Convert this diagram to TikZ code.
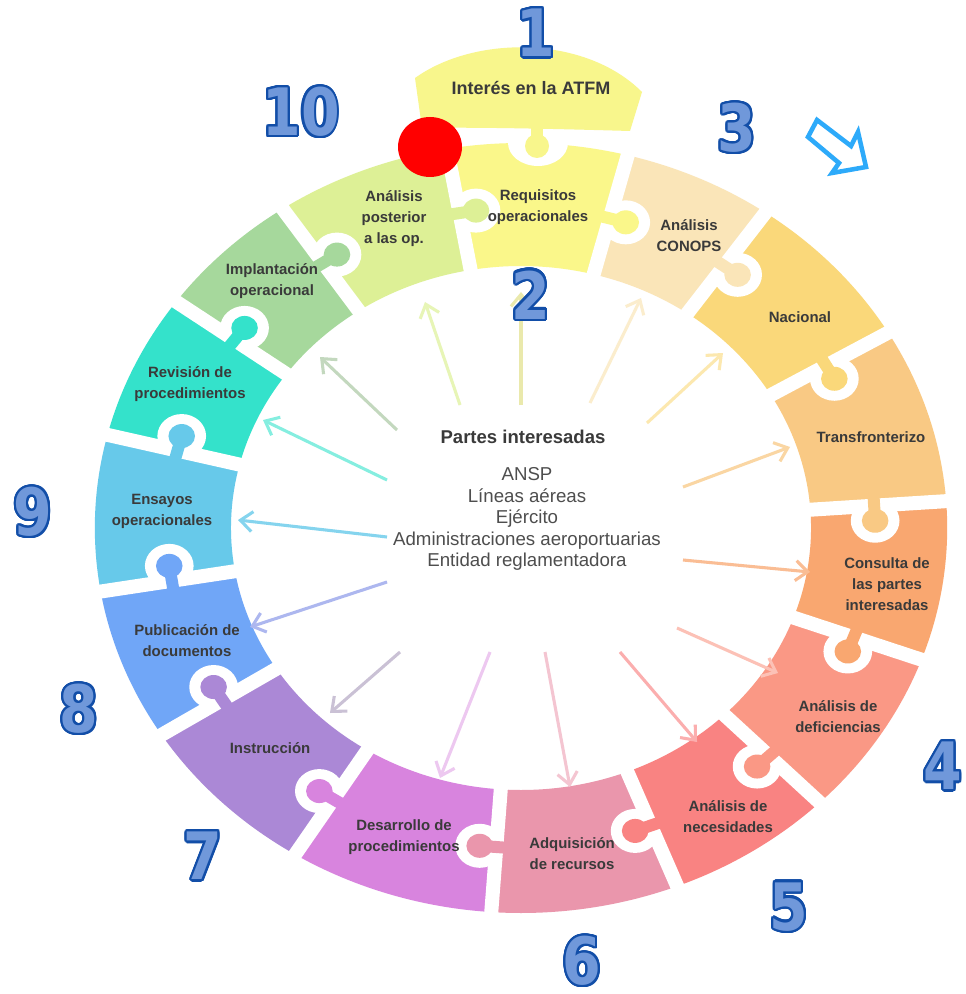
\documentclass[tikz,border=0pt]{standalone}
\usepackage{fontspec}
\setmainfont{Liberation Sans}
\newfontfamily\numfont{DejaVu Sans}
\usepackage{contour}
\usetikzlibrary{arrows.meta}
\contourlength{1.8pt}
\contournumber{24}

\definecolor{cInt}{RGB}{248,246,140}
\definecolor{cReq}{RGB}{250,247,138}
\definecolor{cCon}{RGB}{250,229,184}
\definecolor{cNac}{RGB}{250,216,122}
\definecolor{cTra}{RGB}{249,201,132}
\definecolor{cCsl}{RGB}{249,167,112}
\definecolor{cDef}{RGB}{250,152,133}
\definecolor{cNec}{RGB}{249,131,130}
\definecolor{cAdq}{RGB}{234,150,172}
\definecolor{cDes}{RGB}{216,132,222}
\definecolor{cIns}{RGB}{171,136,214}
\definecolor{cPub}{RGB}{112,166,247}
\definecolor{cEns}{RGB}{103,201,234}
\definecolor{cRev}{RGB}{52,226,203}
\definecolor{cImp}{RGB}{166,216,156}
\definecolor{cAnp}{RGB}{221,240,150}
\definecolor{txtGray}{RGB}{58,58,58}
\definecolor{numLine}{RGB}{18,78,168}
\definecolor{numFill}{RGB}{112,152,218}
\definecolor{hintBlue}{RGB}{45,170,250}

\newcommand{\bignum}[1]{\contour{numLine}{\textcolor{numFill}{#1}}}

\tikzset{every picture/.style={line width=0.75pt}}
\tikzset{
  gapline/.style={white, line width=10.5pt},
  neck/.style={line width=9pt},
  ray/.style={line width=2.3pt, -{Straight Barb[length=9pt,width=15pt]}},
  lbl/.style={inner sep=0.75pt, align=center, text=txtGray, font=\fontsize{11.2}{15.8}\selectfont\bfseries},
  num/.style={inner sep=0pt, font=\numfont\bfseries\fontsize{49}{49}\selectfont, xscale=0.85},
}

\begin{document}
\begin{tikzpicture}[x=0.75pt,y=0.75pt,yscale=-1,xscale=1]
%set diagram to the size of the picture
\useasboundingbox (0,0) rectangle (965,994);
\fill [white] (0,0) rectangle (965,994);

\begin{scope}[shift={(521,528)},xscale=1.107,yscale=-1]
%Shape: Ring pieces
\fill [cReq] (75.5:262) arc [start angle=75.5, end angle=100, radius=262] -- (100:385) arc [start angle=100, end angle=75.5, radius=385] -- cycle;
\fill [cCon] (55:262) arc [start angle=55, end angle=75.5, radius=262] -- (75.5:385) arc [start angle=75.5, end angle=55, radius=385] -- cycle;
\fill [cNac] (30.5:262) arc [start angle=30.5, end angle=55, radius=262] -- (55:385) arc [start angle=55, end angle=30.5, radius=385] -- cycle;
\fill [cTra] (4:262) arc [start angle=4, end angle=30.5, radius=262] -- (30.5:385) arc [start angle=30.5, end angle=4, radius=385] -- cycle;
\fill [cCsl] (-20:262) arc [start angle=-20, end angle=4, radius=262] -- (4:385) arc [start angle=4, end angle=-20, radius=385] -- cycle;
\fill [cDef] (-45.5:262) arc [start angle=-45.5, end angle=-20, radius=262] -- (-20:385) arc [start angle=-20, end angle=-45.5, radius=385] -- cycle;
\fill [cNec] (-68.5:262) arc [start angle=-68.5, end angle=-45.5, radius=262] -- (-45.5:385) arc [start angle=-45.5, end angle=-68.5, radius=385] -- cycle;
\fill [cAdq] (-94:262) arc [start angle=-94, end angle=-68.5, radius=262] -- (-68.5:385) arc [start angle=-68.5, end angle=-94, radius=385] -- cycle;
\fill [cDes] (-122:262) arc [start angle=-122, end angle=-94, radius=262] -- (-94:385) arc [start angle=-94, end angle=-122, radius=385] -- cycle;
\fill [cIns] (-147.5:262) arc [start angle=-147.5, end angle=-122, radius=262] -- (-122:385) arc [start angle=-122, end angle=-147.5, radius=385] -- cycle;
\fill [cPub] (-170.5:262) arc [start angle=-170.5, end angle=-147.5, radius=262] -- (-147.5:385) arc [start angle=-147.5, end angle=-170.5, radius=385] -- cycle;
\fill [cEns] (-194:262) arc [start angle=-194, end angle=-170.5, radius=262] -- (-170.5:385) arc [start angle=-170.5, end angle=-194, radius=385] -- cycle;
\fill [cRev] (-216:262) arc [start angle=-216, end angle=-194, radius=262] -- (-194:385) arc [start angle=-194, end angle=-216, radius=385] -- cycle;
\fill [cImp] (-236:262) arc [start angle=-236, end angle=-216, radius=262] -- (-216:385) arc [start angle=-216, end angle=-236, radius=385] -- cycle;
\fill [cAnp] (-260:262) arc [start angle=-260, end angle=-236, radius=262] -- (-236:385) arc [start angle=-236, end angle=-260, radius=385] -- cycle;

%Straight Lines: gaps between the pieces
\draw [gapline] (75.5:245) -- (75.5:398);
\draw [gapline] (55:245) -- (55:398);
\draw [gapline] (30.5:245) -- (30.5:398);
\draw [gapline] (4:245) -- (4:398);
\draw [gapline] (-20:245) -- (-20:398);
\draw [gapline] (-45.5:245) -- (-45.5:398);
\draw [gapline] (-68.5:245) -- (-68.5:398);
\draw [gapline] (-94:245) -- (-94:398);
\draw [gapline] (-122:245) -- (-122:398);
\draw [gapline] (-147.5:245) -- (-147.5:398);
\draw [gapline] (-170.5:245) -- (-170.5:398);
\draw [gapline] (-194:245) -- (-194:398);
\draw [gapline] (-216:245) -- (-216:398);
\draw [gapline] (-236:245) -- (-236:398);
\draw [gapline] (-260:245) -- (-260:398);

%Shape: sockets and tabs
\fill [white] (72.8:320) circle (22);
\draw [neck, cReq] (77:320) -- (72.8:320); \fill [cReq] (72.8:320) circle (12);
\fill [white] (52.3:320) circle (22);
\draw [neck, cCon] (56.5:320) -- (52.3:320); \fill [cCon] (52.3:320) circle (12);
\fill [white] (27.8:320) circle (22);
\draw [neck, cNac] (32:320) -- (27.8:320); \fill [cNac] (27.8:320) circle (12);
\fill [white] (1.3:320) circle (22);
\draw [neck, cTra] (5.5:320) -- (1.3:320); \fill [cTra] (1.3:320) circle (12);
\fill [white] (-22.7:320) circle (22);
\draw [neck, cCsl] (-18.5:320) -- (-22.7:320); \fill [cCsl] (-22.7:320) circle (12);
\fill [white] (-48.2:320) circle (22);
\draw [neck, cDef] (-44:320) -- (-48.2:320); \fill [cDef] (-48.2:320) circle (12);
\fill [white] (-71.2:320) circle (22);
\draw [neck, cNec] (-67:320) -- (-71.2:320); \fill [cNec] (-71.2:320) circle (12);
\fill [white] (-96.7:320) circle (22);
\draw [neck, cAdq] (-92.5:320) -- (-96.7:320); \fill [cAdq] (-96.7:320) circle (12);
\fill [white] (-124.7:320) circle (22);
\draw [neck, cDes] (-120.5:320) -- (-124.7:320); \fill [cDes] (-124.7:320) circle (12);
\fill [white] (-150.2:320) circle (22);
\draw [neck, cIns] (-146:320) -- (-150.2:320); \fill [cIns] (-150.2:320) circle (12);
\fill [white] (-173.2:320) circle (22);
\draw [neck, cPub] (-169:320) -- (-173.2:320); \fill [cPub] (-173.2:320) circle (12);
\fill [white] (-196.7:320) circle (22);
\draw [neck, cEns] (-192.5:320) -- (-196.7:320); \fill [cEns] (-196.7:320) circle (12);
\fill [white] (-218.7:320) circle (22);
\draw [neck, cRev] (-214.5:320) -- (-218.7:320); \fill [cRev] (-218.7:320) circle (12);
\fill [white] (-238.7:320) circle (22);
\draw [neck, cImp] (-234.5:320) -- (-238.7:320); \fill [cImp] (-238.7:320) circle (12);
\fill [white] (-262.7:320) circle (22);
\draw [neck, cAnp] (-258.5:320) -- (-262.7:320); \fill [cAnp] (-262.7:320) circle (12);
\end{scope}

%Shape: top piece
\fill [white] (538,143) ellipse [x radius=30, y radius=23];
\fill [cInt] (422,128) -- (415,78) .. controls (475,35) and (585,35) .. (642,92) -- (630,131) .. controls (560,129) and (480,127) .. (422,128) -- cycle;
\draw [neck, cInt] (537,126) -- (537,146); \fill [cInt] (537,146) circle (12);

%Straight Lines: arrows from the centre
\coordinate (tReq) at (521,405); \coordinate (hReq) at (521,292);
\coordinate (tCon) at (590,403); \coordinate (hCon) at (641,298);
\coordinate (tNac) at (647,423); \coordinate (hNac) at (723,353);
\coordinate (tTra) at (683,487); \coordinate (hTra) at (790,447);
\coordinate (tCsl) at (683,560); \coordinate (hCsl) at (810,572);
\coordinate (tDef) at (677,628); \coordinate (hDef) at (778,673);
\coordinate (tNec) at (620,652); \coordinate (hNec) at (697,742);
\coordinate (tAdq) at (545,652); \coordinate (hAdq) at (570,787);
\coordinate (tDes) at (490,652); \coordinate (hDes) at (440,778);
\coordinate (tIns) at (400,652); \coordinate (hIns) at (330,713);
\coordinate (tPub) at (387,582); \coordinate (hPub) at (250,627);
\coordinate (tEns) at (387,537); \coordinate (hEns) at (238,520);
\coordinate (tRev) at (387,480); \coordinate (hRev) at (263,420);
\coordinate (tImp) at (397,430); \coordinate (hImp) at (320,357);
\coordinate (tAnp) at (460,405); \coordinate (hAnp) at (425,302);
\draw [ray, cReq!80!gray!70] (tReq) -- (hReq);
\draw [ray, cCon!70] (tCon) -- (hCon);
\draw [ray, cNac!60] (tNac) -- (hNac);
\draw [ray, cTra!75] (tTra) -- (hTra);
\draw [ray, cCsl!75] (tCsl) -- (hCsl);
\draw [ray, cDef!60] (tDef) -- (hDef);
\draw [ray, cNec!65] (tNec) -- (hNec);
\draw [ray, cAdq!55] (tAdq) -- (hAdq);
\draw [ray, cDes!45] (tDes) -- (hDes);
\draw [ray, cIns!50!gray!50] (tIns) -- (hIns);
\draw [ray, cPub!55!cIns!70] (tPub) -- (hPub);
\draw [ray, cEns!80] (tEns) -- (hEns);
\draw [ray, cRev!60] (tRev) -- (hRev);
\draw [ray, cImp!70!gray!60] (tImp) -- (hImp);
\draw [ray, cAnp!70] (tAnp) -- (hAnp);

% Text Node
\draw (531,88) node (lInt) [lbl, font=\fontsize{13.5}{16}\selectfont\bfseries] {Interés en la ATFM};
% Text Node
\draw (538,207) node (lReq) [lbl] {Requisitos\\operacionales};
% Text Node
\draw (689,236) node (lCon) [lbl] {Análisis\\CONOPS};
% Text Node
\draw (800,317) node (lNac) [lbl] {Nacional};
% Text Node
\draw (871,437) node (lTra) [lbl] {Transfronterizo};
% Text Node
\draw (887,584) node (lCsl) [lbl] {Consulta de\\las partes\\interesadas};
% Text Node
\draw (838,717) node (lDef) [lbl] {Análisis de\\deficiencias};
% Text Node
\draw (728,817) node (lNec) [lbl] {Análisis de\\necesidades};
% Text Node
\draw (572,854) node (lAdq) [lbl] {Adquisición\\de recursos};
% Text Node
\draw (404,837) node (lDes) [lbl] {Desarrollo de\\procedimientos};
% Text Node
\draw (270,748) node (lIns) [lbl] {Instrucción};
% Text Node
\draw (187,641) node (lPub) [lbl] {Publicación de\\documentos};
% Text Node
\draw (162,511) node (lEns) [lbl] {Ensayos\\operacionales};
% Text Node
\draw (190,384) node (lRev) [lbl] {Revisión de\\procedimientos};
% Text Node
\draw (272,281) node (lImp) [lbl] {Implantación\\operacional};
% Text Node
\draw (394,219) node (lAnp) [lbl] {Análisis\\posterior\\a las op.};

% Text Node
\draw (523,437) node (title) [inner sep=0.75pt, text=txtGray, font=\fontsize{13.9}{16}\selectfont\bfseries] {Partes interesadas};
% Text Node
\draw (527,519) node (parties) [inner sep=0.75pt, align=center, text=txtGray!90, font=\fontsize{14}{16.1}\selectfont] {ANSP\\Líneas aéreas\\Ejército\\Administraciones aeroportuarias\\Entidad reglamentadora};

%Shape: Circle
\fill [red] (430,147) ellipse [x radius=32, y radius=30];
%Shape: hint arrow
\draw [color=hintBlue, line width=3.4pt, fill=white, line join=miter] (817,120) -- (851,146) -- (858,132) -- (866,167) -- (832,173) -- (839,163) -- (808,137) -- cycle;

% Text Node
\draw (536,34) node (n1) [num] {\bignum{1}};
% Text Node
\draw (531,296) node (n2) [num] {\bignum{2}};
% Text Node
\draw (737,129) node (n3) [num] {\bignum{3}};
% Text Node
\draw (943,767) node (n4) [num] {\bignum{4}};
% Text Node
\draw (789,908) node (n5) [num] {\bignum{5}};
% Text Node
\draw (582,962) node (n6) [num] {\bignum{6}};
% Text Node
\draw (203,857) node (n7) [num] {\bignum{7}};
% Text Node
\draw (79,710) node (n8) [num] {\bignum{8}};
% Text Node
\draw (33,513) node (n9) [num] {\bignum{9}};
% Text Node
\draw (301,113) node (n10) [num] {\bignum{10}};

\end{tikzpicture}
\end{document}
